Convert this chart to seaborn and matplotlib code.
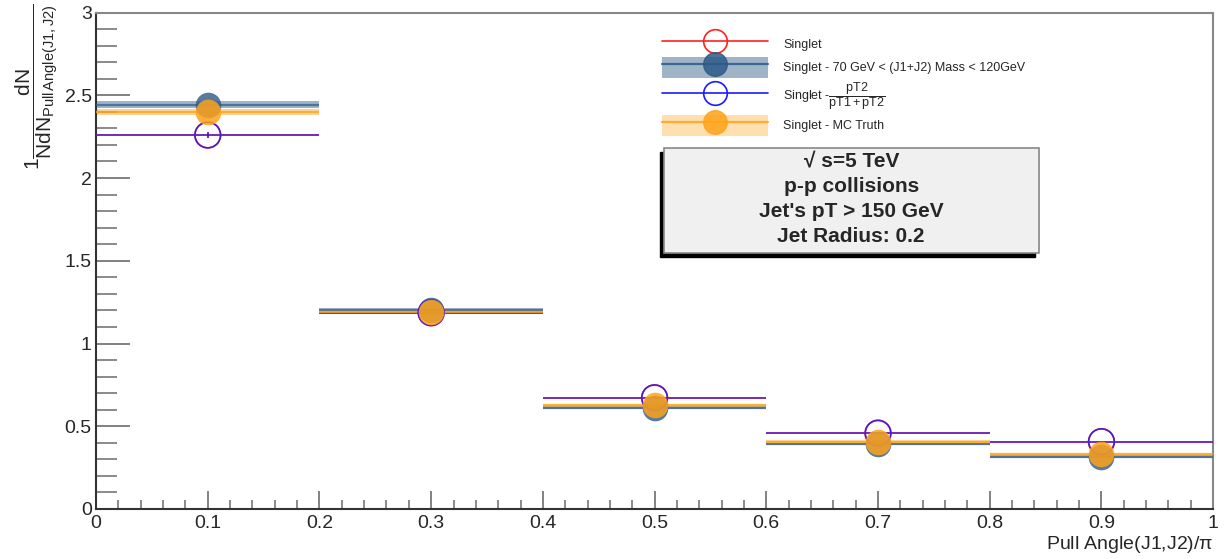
import numpy as np
import matplotlib
matplotlib.use("Agg")
import matplotlib.pyplot as plt
from matplotlib.patches import Rectangle, Patch
from matplotlib.lines import Line2D
from matplotlib.ticker import MultipleLocator
import seaborn as sns

# Bin centres and half-widths of the pull-angle histogram
bin_centers = [0.1, 0.3, 0.5, 0.7, 0.9]
bin_half_width = 0.1

# Normalised distributions, one per selection
singlet = [2.26, 1.186, 0.672, 0.458, 0.407]
singlet_mass = [2.444, 1.204, 0.613, 0.393, 0.316]
singlet_pt = [2.26, 1.186, 0.672, 0.458, 0.407]
singlet_truth = [2.40, 1.19, 0.627, 0.407, 0.331]

# Statistical uncertainties
singlet_err = [0.02, 0.01, 0.008, 0.006, 0.006]
mass_err = [0.02, 0.012, 0.01, 0.008, 0.008]
truth_err = [0.018, 0.012, 0.01, 0.008, 0.008]

x_ticks = [0, 0.1, 0.2, 0.3, 0.4, 0.5, 0.6, 0.7, 0.8, 0.9, 1]
x_tick_labels = ["0", "0.1", "0.2", "0.3", "0.4", "0.5", "0.6", "0.7", "0.8", "0.9", "1"]
y_ticks = [0, 0.5, 1, 1.5, 2, 2.5, 3]
y_tick_labels = ["0", "0.5", "1", "1.5", "2", "2.5", "3"]

labels = [
    "Singlet",
    "Singlet - 70 GeV < (J1+J2) Mass < 120GeV",
    r"Singlet -$\dfrac{\mathrm{pT2}}{\mathrm{pT1+pT2}}$",
    "Singlet - MC Truth",
]

sns.set_style("white")
plt.rcParams["font.family"] = ["Liberation Sans", "DejaVu Sans"]
plt.rcParams["mathtext.fontset"] = "custom"
plt.rcParams["mathtext.rm"] = "Liberation Sans"
plt.rcParams["mathtext.it"] = "Liberation Sans:italic"
plt.rcParams["mathtext.bf"] = "Liberation Sans:bold"

fig = plt.figure(figsize=(12.28, 5.59), dpi=100)
ax = fig.add_axes([0.0782, 0.0895, 0.9097, 0.888])

red = "#ff2020"
blue = "#1a1aff"
mass_c = "#2c5a87"
orange = "#ffa31a"

x = np.array(bin_centers)

# error bands (mass window and MC truth)
ax.bar(x, 2 * np.array(mass_err), bottom=np.array(singlet_mass) - np.array(mass_err),
       width=2 * bin_half_width, color=mass_c, alpha=0.45, linewidth=0, zorder=2)
ax.bar(x, 2 * np.array(truth_err), bottom=np.array(singlet_truth) - np.array(truth_err),
       width=2 * bin_half_width, color=orange, alpha=0.45, linewidth=0, zorder=2)

# horizontal bin lines
ax.errorbar(x, singlet, xerr=bin_half_width, yerr=singlet_err, fmt="none",
            ecolor=red, elinewidth=1.4, alpha=0.8, zorder=3)
ax.errorbar(x, singlet_mass, xerr=bin_half_width, fmt="none",
            ecolor=mass_c, elinewidth=1.6, alpha=0.7, zorder=3)
ax.errorbar(x, singlet_pt, xerr=bin_half_width, yerr=singlet_err, fmt="none",
            ecolor=blue, elinewidth=1.2, alpha=0.7, zorder=3)
ax.errorbar(x, singlet_truth, xerr=bin_half_width, fmt="none",
            ecolor=orange, elinewidth=1.6, alpha=0.8, zorder=3)

# markers
ms = 340
sns.scatterplot(x=x, y=singlet, s=ms, marker="o", facecolor="none",
                edgecolor=red, linewidth=1.2, ax=ax, zorder=4)
sns.scatterplot(x=x, y=singlet_mass, s=ms, marker="o", color=mass_c,
                alpha=0.8, linewidth=0, ax=ax, zorder=4)
sns.scatterplot(x=x, y=singlet_pt, s=ms, marker="o", facecolor="none",
                edgecolor=blue, linewidth=1.2, alpha=0.8, ax=ax, zorder=4)
sns.scatterplot(x=x, y=singlet_truth, s=ms, marker="o", color=orange,
                alpha=0.85, linewidth=0, ax=ax, zorder=5)

ax.set_xlim(0, 1)
ax.set_ylim(0, 3)

# axis styling
for side in ["left", "bottom"]:
    ax.spines[side].set_color("#333333")
    ax.spines[side].set_linewidth(1.5)
for side in ["top", "right"]:
    ax.spines[side].set_color("#888888")
    ax.spines[side].set_linewidth(1.5)

ax.set_xticks(x_ticks)
ax.set_xticklabels(x_tick_labels)
ax.set_yticks(y_ticks)
ax.set_yticklabels(y_tick_labels)
ax.xaxis.set_minor_locator(MultipleLocator(0.02))
ax.yaxis.set_minor_locator(MultipleLocator(0.1))
ax.tick_params(axis="x", which="major", direction="in", length=13, width=1.3,
               color="#777777", labelsize=14, pad=4, bottom=True)
ax.tick_params(axis="x", which="minor", direction="in", length=6.5, width=1.2,
               color="#777777", bottom=True)
ax.tick_params(axis="y", which="major", direction="in", length=24.5, width=1.3,
               color="#777777", labelsize=14, pad=3, left=True)
ax.tick_params(axis="y", which="minor", direction="in", length=15, width=1.2,
               color="#777777", left=True)
ax.grid(False)

ax.set_xlabel(r"Pull Angle(J1,J2)/$\mathrm{\pi}$", fontsize=14, loc="right", labelpad=2)
ax.set_ylabel(r"$1\dfrac{\mathrm{dN}}{\mathrm{NdN}_{\mathrm{Pull\,Angle(J1,J2)}}}$",
              fontsize=15, loc="top")
ax.yaxis.set_label_coords(-0.031, 1.02)

# legend
h_singlet = Line2D([], [], color=red, lw=1.2, marker="o", ms=17,
                   mfc="none", mec=red, mew=1.2)
h_mass = (Patch(facecolor=mass_c, alpha=0.45, edgecolor="none"),
          Line2D([], [], color=mass_c, lw=1.6, marker="o", ms=17,
                 mfc=mass_c, mec=mass_c, alpha=0.85))
h_pt = Line2D([], [], color=blue, lw=1.2, marker="o", ms=17,
              mfc="none", mec=blue, mew=1.2)
h_truth = (Patch(facecolor=orange, alpha=0.35, edgecolor="none"),
           Line2D([], [], color=orange, lw=1.6, marker="o", ms=17,
                  mfc=orange, mec=orange, alpha=0.85))
ax.legend([h_singlet, h_mass, h_pt, h_truth], labels,
          loc="upper left", bbox_to_anchor=(0.502, 0.968), frameon=False,
          fontsize=9, handlelength=8.5, handleheight=2.2, labelspacing=0.2,
          handletextpad=1.2, borderaxespad=0)

# info box with drop shadow
ax.add_patch(Rectangle((0.505, 0.508), 0.3357, 0.2118, transform=ax.transAxes,
                       facecolor="black", edgecolor="black", zorder=6))
ax.add_patch(Rectangle((0.5085, 0.516), 0.3355, 0.212, transform=ax.transAxes,
                       facecolor="#f0f0f0", edgecolor="#888888", lw=1.2, zorder=7))
box_lines = ["\u221a s=5 TeV", "p-p collisions", "Jet's pT > 150 GeV", "Jet Radius: 0.2"]
for i, t in enumerate(box_lines):
    ax.text(0.676, 0.6996 - i * 0.0505, t, transform=ax.transAxes, ha="center",
            va="center", fontsize=15, fontweight="bold", zorder=8)

fig.savefig("out.png", dpi=100)
